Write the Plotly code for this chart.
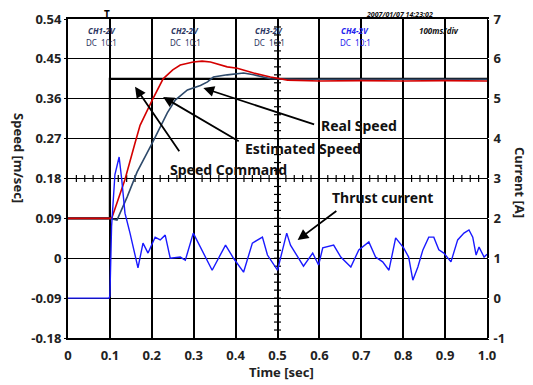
import plotly.graph_objects as go

# ---------------- data ----------------
time_ticks = [0, 0.1, 0.2, 0.3, 0.4, 0.5, 0.6, 0.7, 0.8, 0.9, 1.0]
time_tick_labels = ["0", "0.1", "0.2", "0.3", "0.4", "0.5", "0.6", "0.7", "0.8", "0.9", "1.0"]
speed_ticks = [-0.18, -0.09, 0, 0.09, 0.18, 0.27, 0.36, 0.45, 0.54]
speed_tick_labels = ["-0.18", "-0.09", "0", "0.09", "0.18", "0.27", "0.36", "0.45", "0.54"]
current_ticks = [-1, 0, 1, 2, 3, 4, 5, 6, 7]
current_tick_labels = ["-1", "0", "1", "2", "3", "4", "5", "6", "7"]

cmd_t = [0, 0.1, 0.1, 1.0]
cmd_v = [0.09, 0.09, 0.405, 0.405]

real_t = [0, 0.1, 0.105, 0.136, 0.160, 0.172, 0.201, 0.227, 0.25, 0.268, 0.299,
          0.32, 0.34, 0.38, 0.404, 0.443, 0.483, 0.524, 0.6, 0.7, 0.8, 0.9, 1.0]
real_v = [0.09, 0.09, 0.092, 0.178, 0.26, 0.30, 0.357, 0.405, 0.425, 0.436, 0.443,
          0.445, 0.443, 0.432, 0.429, 0.418, 0.409, 0.402, 0.400, 0.401, 0.400, 0.401, 0.400]

est_t = [0, 0.1, 0.108, 0.117, 0.141, 0.165, 0.201, 0.237, 0.256, 0.285, 0.316,
         0.333, 0.347, 0.38, 0.419, 0.443, 0.483, 0.55, 0.7, 0.85, 1.0]
est_v = [0.09, 0.09, 0.088, 0.086, 0.138, 0.195, 0.26, 0.328, 0.357, 0.38, 0.39,
         0.398, 0.409, 0.414, 0.418, 0.414, 0.405, 0.404, 0.404, 0.404, 0.404]

cur_t = [0, 0.098, 0.1, 0.104, 0.112, 0.122, 0.128, 0.136, 0.148, 0.167, 0.179, 0.191,
         0.208, 0.22, 0.232, 0.244, 0.268, 0.28, 0.299, 0.316, 0.344, 0.376, 0.395,
         0.419, 0.44, 0.464, 0.476, 0.5, 0.522, 0.531, 0.545, 0.562, 0.584, 0.598,
         0.608, 0.634, 0.651, 0.675, 0.694, 0.718, 0.734, 0.751, 0.766, 0.782, 0.801,
         0.813, 0.823, 0.835, 0.847, 0.861, 0.873, 0.885, 0.897, 0.914, 0.93, 0.945,
         0.957, 0.966, 0.974, 0.981, 0.993, 1.0]
cur_a = [0.0, 0.0, 0.05, 1.8, 3.1, 3.54, 3.0, 2.13, 1.63, 0.76, 1.38, 1.13,
         1.53, 1.46, 1.58, 1.0, 1.03, 0.95, 1.63, 1.28, 0.70, 1.33, 1.0,
         0.65, 1.38, 1.53, 1.08, 0.70, 1.63, 1.33, 1.1, 0.8, 1.13, 0.83,
         1.26, 1.33, 1.03, 0.78, 1.21, 1.41, 1.03, 0.91, 0.70, 1.51, 1.26,
         1.03, 0.45, 0.78, 1.21, 1.53, 1.53, 1.21, 1.13, 0.91, 1.46, 1.63,
         1.71, 1.53, 1.08, 1.28, 1.03, 1.1]

# decorative centre-line graticule ticks (oscilloscope screen)
grat_x = [i / 50 for i in range(1, 50)]
grat_y = [-0.18 + i * 0.018 for i in range(1, 40)]

FONT = "Noto Sans"
fig = go.Figure()

fig.add_trace(go.Scatter(x=grat_x, y=[0.18] * len(grat_x), mode="markers",
                         marker=dict(symbol="line-ns-open", size=5, color="black",
                                     line=dict(width=1.2, color="black")),
                         hoverinfo="skip", showlegend=False))
fig.add_trace(go.Scatter(x=[0.5] * len(grat_y), y=grat_y, mode="markers",
                         marker=dict(symbol="line-ew-open", size=5, color="black",
                                     line=dict(width=1.2, color="black")),
                         hoverinfo="skip", showlegend=False))

fig.add_trace(go.Scatter(x=cmd_t, y=cmd_v, mode="lines", name="Speed Command",
                         line=dict(color="black", width=2.2), showlegend=False))
fig.add_trace(go.Scatter(x=est_t, y=est_v, mode="lines", name="Estimated Speed",
                         line=dict(color="#2e4a6b", width=1.6), showlegend=False))
fig.add_trace(go.Scatter(x=real_t, y=real_v, mode="lines", name="Real Speed",
                         line=dict(color="#d40000", width=1.6), showlegend=False))
fig.add_trace(go.Scatter(x=cur_t, y=cur_a, mode="lines", name="Thrust current",
                         yaxis="y2", line=dict(color="#1a1aff", width=1.4), showlegend=False))

tickfont = dict(family=FONT, size=13, color="#222222")

# page has an 8px body margin: compensate so the plot area lands where the reference has it
fig.update_layout(
    width=533, height=385,
    margin=dict(l=60, r=54, t=11, b=55),
    paper_bgcolor="white", plot_bgcolor="white",
    font=dict(family=FONT, color="#222222"),
    xaxis=dict(range=[0, 1], tickvals=time_ticks, ticktext=["<b>%s</b>" % s for s in time_tick_labels],
               tickfont=tickfont, showgrid=True, gridcolor="black", gridwidth=2.4,
               showline=True, linecolor="black", linewidth=2, mirror=True, automargin=False,
               ticks="", ticklabelstandoff=4, zeroline=False),
    yaxis=dict(range=[-0.18, 0.54], tickvals=speed_ticks,
               ticktext=["<b>%s</b>" % s for s in speed_tick_labels],
               tickfont=tickfont, showgrid=True, gridcolor="black", gridwidth=1.4,
               showline=True, linecolor="black", linewidth=2, mirror=True, automargin=False,
               ticks="outside", ticklen=2, tickcolor="black", zeroline=False),
    yaxis2=dict(range=[-1, 7], tickvals=current_ticks,
                ticktext=["<b>%s</b>" % s for s in current_tick_labels],
                tickfont=tickfont, overlaying="y", side="right", showgrid=False, automargin=False,
                ticks="outside", ticklen=3, tickcolor="white", zeroline=False),
)

# plot-area edges in screenshot pixels (for placing the axis titles)
pl, pr, pt, pb = 68, 487, 19, 338


def px_to_paper(px, py):
    return (px - pl) / (pr - pl), (pb - py) / (pb - pt)


C = dict(xanchor="center", yanchor="middle")
ann = []
tx, ty = px_to_paper(281, 372)
ann.append(dict(text="<b>Time [sec]</b>", x=tx, y=ty, xref="paper", yref="paper", **C,
                showarrow=False, font=dict(family=FONT, size=13, color="#222222")))
tx, ty = px_to_paper(19, 158)
ann.append(dict(text="<b>Speed [m/sec]</b>", x=tx, y=ty, xref="paper", yref="paper", **C,
                showarrow=False, textangle=90, font=dict(family=FONT, size=13, color="#222222")))
tx, ty = px_to_paper(520, 182)
ann.append(dict(text="<b>Current [A]</b>", x=tx, y=ty, xref="paper", yref="paper", **C,
                showarrow=False, textangle=90, font=dict(family=FONT, size=13, color="#222222")))

# callout labels with arrows
callouts = [
    ("Real Speed", 0.694, 0.299, 0.591, 0.301, 0.323, 0.384),
    ("Estimated Speed", 0.56, 0.247, 0.411, 0.262, 0.227, 0.364),
    ("Speed Command", 0.383, 0.201, 0.268, 0.238, 0.16, 0.387),
    ("Thrust current", 0.751, 0.138, 0.644, 0.109, 0.548, 0.041),
]
for text, tx, ty, ax0, ay0, hx, hy in callouts:
    ann.append(dict(text="<b>%s</b>" % text, x=tx, y=ty, xref="x", yref="y", showarrow=False, **C,
                    font=dict(family=FONT, size=14, color="#111111")))
    ann.append(dict(text="", x=hx, y=hy, ax=ax0, ay=ay0, xref="x", yref="y",
                    axref="x", ayref="y", showarrow=True, arrowhead=2, arrowsize=1.2,
                    arrowwidth=1.8, arrowcolor="black"))

# oscilloscope screen labels
scope_col = "#2a3560"
for cx, ch, col in [(0.08, "CH1-2V", scope_col), (0.28, "CH2-2V", scope_col),
                    (0.48, "CH3-2V", scope_col), (0.686, "CH4-2V", "#2222ee")]:
    ann.append(dict(text="<b><i>%s</i></b>" % ch, x=cx, y=0.515, xref="x", yref="y", **C,
                    showarrow=False, font=dict(family=FONT, size=8, color=col)))
    ann.append(dict(text="DC  10:1", x=cx, y=0.488, xref="x", yref="y", **C,
                    showarrow=False, font=dict(family=FONT, size=8, color=col)))
ann.append(dict(text="<b><i>2007/01/07 14:23:02</i></b>", x=0.79, y=1.0, xref="x", yref="paper",
                xanchor="center", yanchor="bottom", yshift=-2, showarrow=False,
                font=dict(family=FONT, size=7, color="#111111")))
ann.append(dict(text="<b><i>100ms/div</i></b>", x=0.885, y=0.515, xref="x", yref="y", **C,
                showarrow=False, font=dict(family=FONT, size=8, color="#111111")))
ann.append(dict(text="<b>T</b>", x=0.093, y=1.0, xref="x", yref="paper",
                xanchor="center", yanchor="bottom", yshift=-4,
                showarrow=False, font=dict(family=FONT, size=10, color="black")))

fig.update_layout(annotations=ann)
fig.write_html("out.html")
